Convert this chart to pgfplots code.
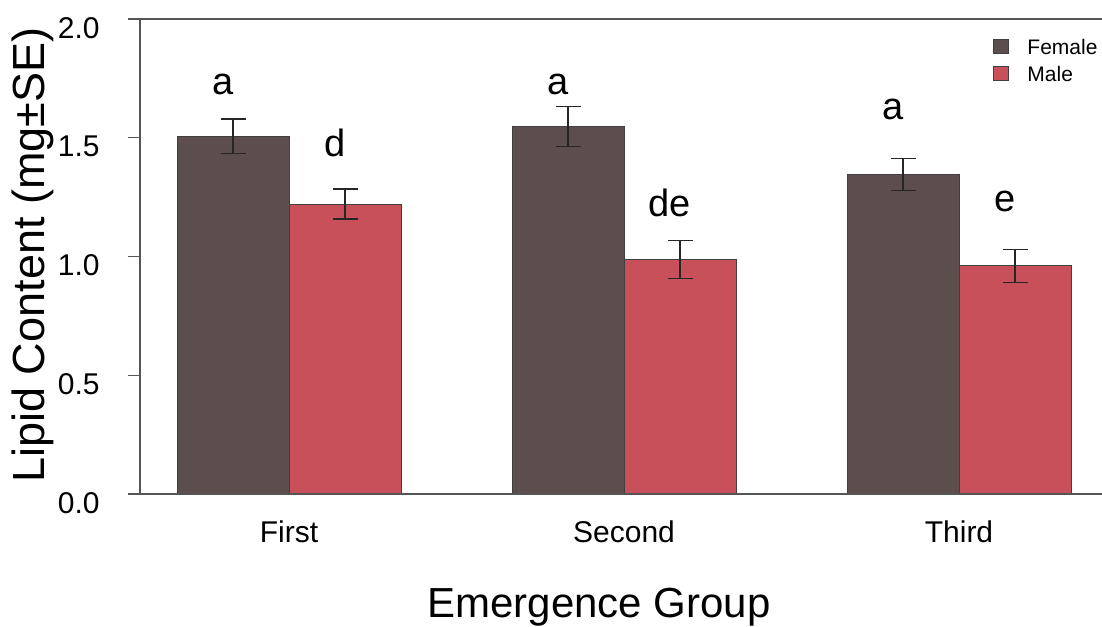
\documentclass[border=0pt]{standalone}
\usepackage{fontspec}
\setmainfont{Liberation Sans}
\usepackage{pgfplots}
\usepackage{pgfplotstable}
\pgfplotsset{compat=1.18}
\definecolor{fem}{HTML}{5D4E4E}
\definecolor{mal}{HTML}{C8505A}
\definecolor{axgray}{HTML}{555555}
\pgfplotstableread{
x female fe male me
0 1.507 0.072 1.221 0.063
1 1.547 0.083 0.989 0.080
2 1.346 0.068 0.961 0.069
}\lipid
\begin{document}
\begin{tikzpicture}
\useasboundingbox (0,0) rectangle (551pt,313pt);
\begin{axis}[
  at={(70pt,66pt)}, anchor=south west,
  width=481pt, height=237.5pt, scale only axis,
  xmin=-0.4448, xmax=2.4269, ymin=0, ymax=2,
  axis lines=left, axis line style={-, draw=axgray, line width=0.7pt},
  x axis line style={draw=none},
  tick align=outside, major tick length=6pt,
  xtick={0,1,2}, xticklabels={First,Second,Third},
  xtick style={draw=none},
  ytick={0,0.5,1,1.5,2},
  ytick style={draw=axgray, line width=0.7pt},
  /pgf/number format/assume math mode=true,
  yticklabel style={/pgf/number format/.cd, fixed, fixed zerofill, precision=1, /tikz/.cd,
    font=\fontsize{15pt}{18pt}\selectfont, inner sep=0pt, anchor=east, xshift=-14pt, yshift=-4.5pt},
  xticklabel style={font=\fontsize{15pt}{18pt}\selectfont, inner sep=0pt, anchor=base, yshift=-18pt},
  xlabel={Emergence Group},
  xlabel style={font=\fontsize{21pt}{25pt}\selectfont, inner sep=0pt, at={(axis description cs:0.4771,0)}, anchor=base, yshift=-61.5pt},
  ylabel={Lipid Content (mg±SE)},
  ylabel style={font=\fontsize{22.5pt}{27pt}\selectfont, inner sep=0pt, at={(axis description cs:-0.0988,0.503)}, anchor=base, rotate=0},
  ybar=0pt, bar width=56pt,
  legend style={draw=none, fill=none, inner sep=0pt, at={(axis description cs:0.8867,0.958)}, anchor=north west,
    font=\fontsize{10.5pt}{12pt}\selectfont, row sep=4pt, nodes={inner sep=0pt},
    /tikz/every odd column/.append style={column sep=9pt}},
  legend cell align=left,
  legend image code/.code={\draw[#1, draw=black!75, line width=0.5pt] (0pt,-2.5pt) rectangle (7.5pt,4.5pt);},
  error bars/error bar style={line width=0.6pt, draw=black!85},
  error bars/error mark options={rotate=90, mark size=6.25pt, line width=0.6pt, draw=black!85},
]
\addplot[fill=fem, draw=black!75, line width=0.5pt,
  error bars/.cd, y dir=both, y explicit]
  table[x=x, y=female, y error=fe] {\lipid};
\addplot[fill=mal, draw=black!75, line width=0.5pt,
  error bars/.cd, y dir=both, y explicit]
  table[x=x, y=male, y error=me] {\lipid};
\legend{Female, Male}
\begin{scope}[every node/.style={font=\fontsize{19pt}{23pt}\selectfont, anchor=base, inner sep=0pt}]
\node at (axis cs:-0.197,1.680) {a};
\node at (axis cs:0.137,1.419) {d};
\node at (axis cs:0.803,1.680) {a};
\node at (axis cs:1.137,1.168) {de};
\node at (axis cs:1.803,1.578) {a};
\node at (axis cs:2.137,1.189) {e};
\end{scope}
\end{axis}
\draw[axgray, line width=0.7pt] (64pt,66pt) -- (551pt,66pt);
\draw[axgray, line width=0.7pt] (64pt,303.5pt) -- (551pt,303.5pt);
\end{tikzpicture}
\end{document}
